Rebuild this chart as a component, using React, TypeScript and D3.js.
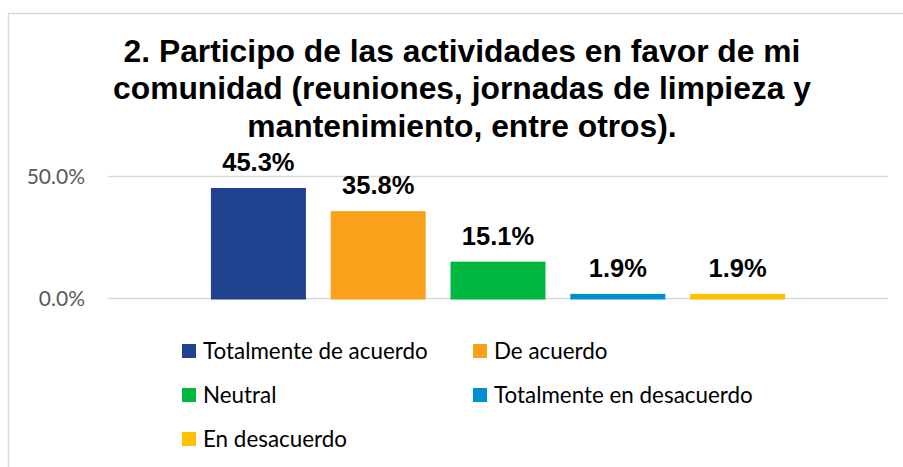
import React from "react";
import * as d3 from "d3";

const titleLines = [
  "2. Participo de las actividades en favor de mi",
  "comunidad (reuniones, jornadas de limpieza y",
  "mantenimiento, entre otros).",
];
const series = [
  "Totalmente de acuerdo",
  "De acuerdo",
  "Neutral",
  "Totalmente en desacuerdo",
  "En desacuerdo",
];
const values = [45.3, 35.8, 15.1, 1.9, 1.9];
const colors = ["#21438F", "#F9A11B", "#00B83F", "#0090D2", "#FFC000"];
const yTicks = [0, 50];

const W = 903;
const H = 467;
const BOLD_FONT = "Arial, 'Liberation Sans', Helvetica, sans-serif";

export default function App() {
  const x = d3
    .scaleBand<string>()
    .domain(series)
    .range([108, 888])
    .paddingInner(0.207)
    .paddingOuter(0.859);
  const y = d3.scaleLinear().domain([0, 50]).range([298.5, 176.5]);
  const fmt = (v: number) => d3.format(".1f")(v) + "%";

  const legendPos = [
    [182, 351],
    [473, 351],
    [182, 395],
    [473, 395],
    [182, 439],
  ];

  return (
    <svg
      width={W}
      height={H}
      style={{ position: "absolute", left: 0, top: 0, background: "#fff" }}
    >
      <rect x={0} y={0} width={W} height={H} fill="#fff" />
      <rect
        x={8.5}
        y={13.5}
        width={910}
        height={470}
        fill="#fff"
        stroke="#d9d9d9"
        strokeWidth={1.5}
      />
      <g
        style={{ fontFamily: BOLD_FONT }}
        fontWeight="bold"
        fontSize={31.8}
        fill="#000"
        textAnchor="middle"
      >
        {titleLines.map((t, i) => (
          <text key={i} x={462} y={61.7 + i * 37.5}>
            {t}
          </text>
        ))}
      </g>
      {yTicks.map((t) => (
        <g key={t}>
          <line
            x1={108}
            x2={888}
            y1={y(t)}
            y2={y(t)}
            stroke="#d9d9d9"
            strokeWidth={1.5}
          />
          <text
            x={85}
            y={y(t) + 7.5}
            textAnchor="end"
            style={{ fontFamily: "Lato, sans-serif" }}
            fontSize={21}
            fill="#595959"
          >
            {fmt(t)}
          </text>
        </g>
      ))}
      {series.map((s, i) => (
        <g key={s}>
          <rect
            x={x(s)}
            y={y(values[i])}
            width={x.bandwidth()}
            height={y(0) - y(values[i]) + 1}
            fill={colors[i]}
          />
          <text
            x={(x(s) as number) + x.bandwidth() / 2}
            y={y(values[i]) - 17}
            textAnchor="middle"
            style={{ fontFamily: BOLD_FONT }}
            fontWeight="bold"
            fontSize={25.5}
            fill="#000"
          >
            {fmt(values[i])}
          </text>
        </g>
      ))}
      {series.map((s, i) => (
        <g key={"lg" + s}>
          <rect
            x={legendPos[i][0]}
            y={legendPos[i][1] - 7}
            width={14}
            height={14}
            fill={colors[i]}
          />
          <text
            x={legendPos[i][0] + 21}
            y={legendPos[i][1] + 7.5}
            style={{ fontFamily: "Lato, sans-serif" }}
            fontSize={22.4}
            fill="#000"
          >
            {s}
          </text>
        </g>
      ))}
    </svg>
  );
}
